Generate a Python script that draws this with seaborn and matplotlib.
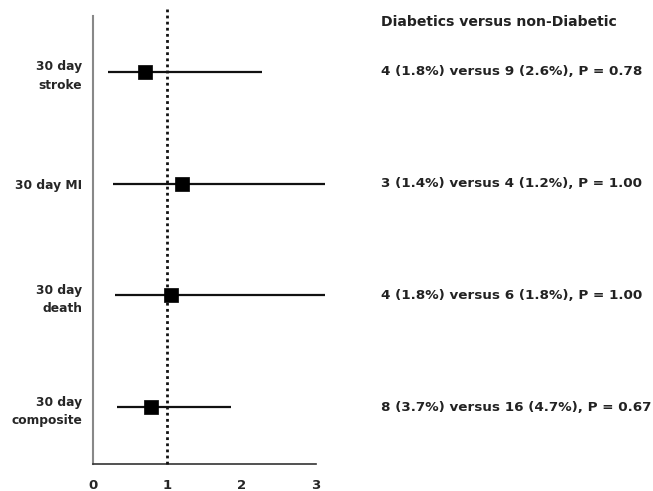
import matplotlib
matplotlib.use("Agg")
import matplotlib.pyplot as plt
import seaborn as sns
import pandas as pd

labels = ["30 day\nstroke", "30 day MI", "30 day\ndeath", "30 day\ncomposite"]
estimate = [0.70, 1.20, 1.05, 0.78]
ci_low = [0.20, 0.26, 0.29, 0.32]
ci_high = [2.28, 3.12, 3.12, 1.86]
annotations = [
    "4 (1.8%) versus 9 (2.6%), P = 0.78",
    "3 (1.4%) versus 4 (1.2%), P = 1.00",
    "4 (1.8%) versus 6 (1.8%), P = 1.00",
    "8 (3.7%) versus 16 (4.7%), P = 0.67",
]
header = "Diabetics versus non-Diabetic"
xticks = [0, 1, 2, 3]

sns.set_style("white")
plt.rcParams["font.family"] = ["DejaVu Sans"]

df = pd.DataFrame({"label": labels, "est": estimate, "lo": ci_low, "hi": ci_high,
                   "pos": list(range(len(labels)))})

fig = plt.figure(figsize=(6.53, 4.91), dpi=100)
ax = fig.add_axes([0.1429, 0.055, 0.3406, 0.9124])

ax.hlines(df["pos"], df["lo"], df["hi"], color="#111111", linewidth=1.6, clip_on=False, zorder=2)
ax.axvline(1, ymin=0, ymax=1.015, color="#111111", linestyle=(0, (1, 1.2)), linewidth=2.0,
           clip_on=False, zorder=3)
sns.scatterplot(data=df, x="est", y="pos", marker="s", s=110, color="black",
                edgecolor="black", linewidth=0.5, ax=ax, zorder=4, clip_on=False, legend=False)

ax.set_xlim(0, 3)
ax.set_ylim(3.51, -0.50)
ax.set_xticks(xticks)
ax.set_xticklabels([str(t) for t in xticks], fontsize=9.5, fontweight="bold")
ax.set_yticks(df["pos"])
ax.set_yticklabels(df["label"], fontsize=8.8, fontweight="bold", ha="right",
                   multialignment="right", linespacing=1.55)
ax.tick_params(axis="y", length=0, pad=8)
ax.tick_params(axis="x", direction="inout", length=6, width=1.0, color="#333333", pad=8)
ax.set_xlabel("")
ax.set_ylabel("")

for s in ["top", "right"]:
    ax.spines[s].set_visible(False)
ax.spines["left"].set_color("#888888")
ax.spines["left"].set_linewidth(1.5)
ax.spines["bottom"].set_color("#333333")
ax.spines["bottom"].set_linewidth(1.2)

fig.text(381 / 653, 1 - 21.7 / 491, header, fontsize=10.1, fontweight="bold",
         ha="left", va="center", color="#222222")
for p, txt in zip(df["pos"], annotations):
    ax.annotate(txt, xy=(381 / 653, p), xycoords=("figure fraction", "data"),
                fontsize=9.7, fontweight="bold", ha="left", va="center", color="#222222",
                annotation_clip=False)

fig.savefig("out.png", dpi=100)
